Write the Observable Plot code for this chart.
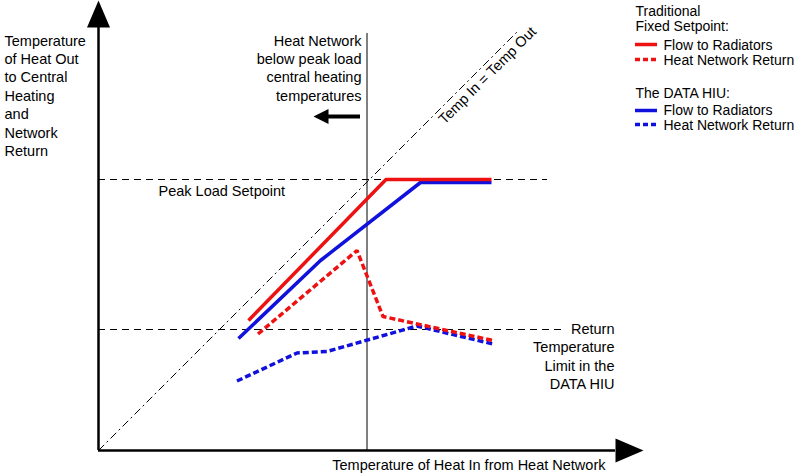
<!DOCTYPE html>
<html>
<head>
<meta charset="utf-8">
<script src="https://cdn.jsdelivr.net/npm/d3@7"></script>
<script src="https://cdn.jsdelivr.net/npm/@observablehq/plot@0.6"></script>
<style>
  html, body { margin: 0; padding: 0; background: #fff; overflow: hidden; }
  #chart svg { display: block; font-family: "Liberation Sans", Arial, sans-serif; }
</style>
</head>
<body>
<div id="chart"></div>
<script>
// ---- data (conceptual temperature units) ----
const tradFlowX   = [30, 57.5, 78.6];
const tradFlowY   = [26, 54.2, 54.2];
const tradReturnX = [31.9, 51.7, 56.9, 78.9];
const tradReturnY = [23.3, 40, 26.8, 22];
const hiuFlowX    = [28, 44.4, 64.4, 78.6];
const hiuFlowY    = [22.4, 38, 53.6, 53.6];
const hiuReturnX  = [27.7, 39.7, 45.7, 63.7, 78.9];
const hiuReturnY  = [13.9, 19.5, 19.8, 24.9, 21.3];
const diagonalEnd = 83.8;          // Temp In = Temp Out line end
const peakSetpoint = 54.2;
const returnLimit = 24.2;
const peakLoadNetworkTemp = 53.7;  // vertical marker

const RED = "#ee1111", BLUE = "#1111dd";

const toPts = (xs, ys) => xs.map((x, i) => ({x, y: ys[i]}));
const tradFlow = toPts(tradFlowX, tradFlowY);
const tradReturn = toPts(tradReturnX, tradReturnY);
const hiuFlow = toPts(hiuFlowX, hiuFlowY);
const hiuReturn = toPts(hiuReturnX, hiuReturnY);
const diagonal = toPts([0, diagonalEnd], [0, diagonalEnd]);

const head = (len, half) => ({
  draw(ctx) { ctx.moveTo(0, -len); ctx.lineTo(half, 0); ctx.lineTo(-half, 0); ctx.closePath(); }
});

const font = {fontSize: 14.5, fill: "#000"};
const lfont = {fontSize: 14, fill: "#000"};
const dashed = {strokeDasharray: "6,3", strokeLinecap: "butt", strokeLinejoin: "miter"};

const chart = Plot.plot({
  width: 800,
  height: 473,
  marginLeft: 98,
  marginRight: 2,
  marginTop: 0,
  marginBottom: 23,
  style: {background: "#fff", overflow: "visible"},
  x: {domain: [0, 140], axis: null},
  y: {domain: [0, 90], axis: null},
  marks: [
    // reference lines
    Plot.ruleY([peakSetpoint], {x1: 0, x2: 89.8, stroke: "#000", strokeWidth: 1, strokeDasharray: "7,5"}),
    Plot.ruleY([returnLimit], {x1: 0, x2: 92.8, stroke: "#000", strokeWidth: 1, strokeDasharray: "7,5"}),
    Plot.ruleX([peakLoadNetworkTemp], {y1: 0, y2: 83.4, stroke: "#000", strokeWidth: 1}),
    Plot.line(diagonal, {x: "x", y: "y", stroke: "#000", strokeWidth: 1, strokeDasharray: "8,3.5,2,3.5", strokeLinecap: "butt"}),
    // series
    Plot.line(hiuReturn, {x: "x", y: "y", stroke: BLUE, strokeWidth: 3.5, ...dashed}),
    Plot.line(tradReturn, {x: "x", y: "y", stroke: RED, strokeWidth: 3.5, ...dashed}),
    Plot.line(hiuFlow, {x: "x", y: "y", stroke: BLUE, strokeWidth: 3.5, strokeLinecap: "butt"}),
    Plot.line(tradFlow, {x: "x", y: "y", stroke: RED, strokeWidth: 3.5, strokeLinecap: "butt"}),
    // axes with arrowheads
    Plot.ruleX([0], {y1: 0, y2: 84.6, stroke: "#000", strokeWidth: 2.5}),
    Plot.ruleY([0], {x1: 0, x2: 103.4, stroke: "#000", strokeWidth: 2.5}),
    Plot.dot([0], {x: 0, y: 84.6, symbol: head(27, 11.5), fill: "#000", stroke: null}),
    Plot.dot([0], {x: 103.4, y: 0, symbol: head(28, 12), rotate: 90, fill: "#000", stroke: null}),
    // left-pointing arrow
    Plot.ruleY([66.8], {x1: 46, x2: 52.4, stroke: "#000", strokeWidth: 4}),
    Plot.dot([0], {x: 46, y: 66.8, symbol: head(15, 7.5), rotate: -90, fill: "#000", stroke: null}),
    // texts
    Plot.text(["Temperature\nof Heat Out\nto Central\nHeating\nand\nNetwork\nReturn"],
      {x: -18.8, y: 83.6, text: d => d, textAnchor: "start", lineAnchor: "top", lineHeight: 1.27, ...font}),
    Plot.text(["Heat Network\nbelow peak load\ncentral heating\ntemperatures"],
      {x: 52.6, y: 83.6, text: d => d, textAnchor: "end", lineAnchor: "top", lineHeight: 1.27, ...font}),
    Plot.text(["Peak Load Setpoint"],
      {x: 12, y: 51, text: d => d, textAnchor: "start", lineAnchor: "bottom", ...font}),
    Plot.text(["Temp In = Temp Out"],
      {x: 77.8, y: 75, text: d => d, textAnchor: "middle", lineAnchor: "middle", rotate: -45, ...font}),
    Plot.text(["Return\nTemperature\nLimit in the\nDATA HIU"],
      {x: 103.2, y: 25.8, text: d => d, textAnchor: "end", lineAnchor: "top", lineHeight: 1.25, ...font}),
    Plot.text(["Temperature of Heat In from Heat Network"],
      {x: 101.4, y: -3.8, text: d => d, textAnchor: "end", lineAnchor: "bottom", ...font}),
    // legend
    Plot.text(["Traditional"], {x: 107.4, y: 87, text: d => d, textAnchor: "start", lineAnchor: "bottom", ...lfont}),
    Plot.text(["Fixed Setpoint:"], {x: 107.4, y: 84, text: d => d, textAnchor: "start", lineAnchor: "bottom", ...lfont}),
    Plot.ruleY([81.2], {x1: 107.4, x2: 111.8, stroke: RED, strokeWidth: 3.5}),
    Plot.text(["Flow to Radiators"], {x: 113, y: 80.2, text: d => d, textAnchor: "start", lineAnchor: "bottom", ...lfont}),
    Plot.ruleY([78.2], {x1: 107.4, x2: 111.8, stroke: RED, strokeWidth: 3.5, strokeDasharray: "5,3"}),
    Plot.text(["Heat Network Return"], {x: 113, y: 77.2, text: d => d, textAnchor: "start", lineAnchor: "bottom", ...lfont}),
    Plot.text(["The DATA HIU:"], {x: 107.4, y: 70.6, text: d => d, textAnchor: "start", lineAnchor: "bottom", ...lfont}),
    Plot.ruleY([68], {x1: 107.4, x2: 111.8, stroke: BLUE, strokeWidth: 3.5}),
    Plot.text(["Flow to Radiators"], {x: 113, y: 67.2, text: d => d, textAnchor: "start", lineAnchor: "bottom", ...lfont}),
    Plot.ruleY([65.2], {x1: 107.4, x2: 111.8, stroke: BLUE, strokeWidth: 3.5, strokeDasharray: "5,3"}),
    Plot.text(["Heat Network Return"], {x: 113, y: 64.2, text: d => d, textAnchor: "start", lineAnchor: "bottom", ...lfont})
  ]
});
document.getElementById("chart").appendChild(chart);
</script>
</body>
</html>
